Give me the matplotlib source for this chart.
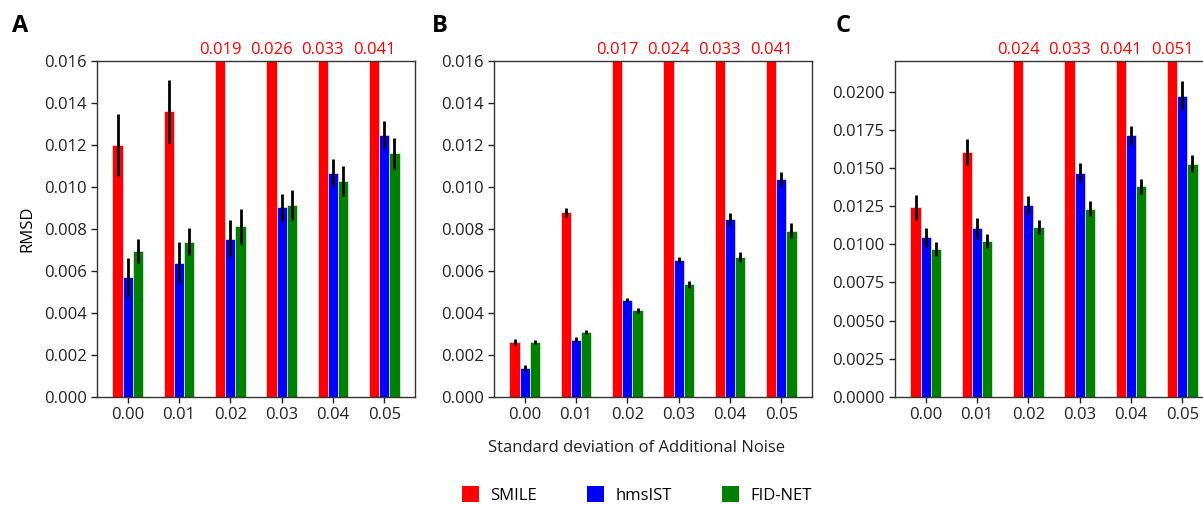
import matplotlib
matplotlib.use("Agg")
import matplotlib.pyplot as plt
from matplotlib.patches import Patch
import numpy as np

plt.rcParams['font.family'] = ['Open Sans', 'DejaVu Sans']

noise_labels = ["0.00", "0.01", "0.02", "0.03", "0.04", "0.05"]
methods = ["SMILE", "hmsIST", "FID-NET"]
colors = ["#ff0000", "#0000ff", "#008000"]

# Panel A
a_smile = [0.0120, 0.0136, 0.019, 0.026, 0.033, 0.041]
a_smile_err = [0.00146, 0.0015, 0, 0, 0, 0]
a_hms = [0.0057, 0.0064, 0.00754, 0.00903, 0.01067, 0.0125]
a_hms_err = [0.00094, 0.00097, 0.00087, 0.00065, 0.00064, 0.00066]
a_fid = [0.00696, 0.00739, 0.00812, 0.00914, 0.01029, 0.0116]
a_fid_err = [0.00057, 0.00065, 0.00085, 0.00072, 0.00072, 0.00075]

# Panel B
b_smile = [0.00262, 0.00879, 0.017, 0.024, 0.033, 0.041]
b_smile_err = [0.00016, 0.00022, 0, 0, 0, 0]
b_hms = [0.00138, 0.00273, 0.00463, 0.00652, 0.00847, 0.01037]
b_hms_err = [0.00016, 0.00011, 0.0001, 0.00014, 0.00027, 0.00033]
b_fid = [0.00261, 0.0031, 0.00413, 0.00536, 0.00665, 0.00792]
b_fid_err = [0.0001, 0.0001, 0.00013, 0.00016, 0.00024, 0.00035]

# Panel C
c_smile = [0.01242, 0.01602, 0.024, 0.033, 0.041, 0.051]
c_smile_err = [0.00083, 0.00085, 0, 0, 0, 0]
c_hms = [0.01045, 0.01104, 0.01257, 0.01469, 0.01714, 0.01974]
c_hms_err = [0.0006, 0.00068, 0.0006, 0.0006, 0.00063, 0.00094]
c_fid = [0.0097, 0.01021, 0.01113, 0.01233, 0.01379, 0.01528]
c_fid_err = [0.00048, 0.00046, 0.00046, 0.0005, 0.00048, 0.00057]

# Annotations of clipped SMILE values
a_notes = ["", "", "0.019", "0.026", "0.033", "0.041"]
b_notes = ["", "", "0.017", "0.024", "0.033", "0.041"]
c_notes = ["", "", "0.024", "0.033", "0.041", "0.051"]

panels = [
    ("A", [a_smile, a_hms, a_fid], [a_smile_err, a_hms_err, a_fid_err], a_notes,
     0.016, np.arange(0, 0.0161, 0.002), "{:.3f}"),
    ("B", [b_smile, b_hms, b_fid], [b_smile_err, b_hms_err, b_fid_err], b_notes,
     0.016, np.arange(0, 0.0161, 0.002), "{:.3f}"),
    ("C", [c_smile, c_hms, c_fid], [c_smile_err, c_hms_err, c_fid_err], c_notes,
     0.022, np.arange(0, 0.0201, 0.0025), "{:.4f}"),
]

W, H = 1203, 505
fig = plt.figure(figsize=(W / 100, H / 100), dpi=100)

lefts = [97, 494, 895]
letter_x = [12, 432, 836]
ax_w = 318
ax_top = 61
ax_bot = 397

x = np.arange(len(noise_labels))
bw = 0.2
offsets = [-0.2, 0.0, 0.2]
FS = 12

for (letter, vals, errs, notes, ymax, yticks, fmt), L, lx in zip(panels, lefts, letter_x):
    ax = fig.add_axes([L / W, (H - ax_bot) / H, ax_w / W, (ax_bot - ax_top) / H])
    for i in range(3):
        e = np.array(errs[i])
        ax.bar(x + offsets[i], vals[i], width=bw, color=colors[i],
               edgecolor='white', linewidth=0.4, zorder=2)
        mask = e > 0
        ax.errorbar((x + offsets[i])[mask], np.array(vals[i])[mask], yerr=e[mask],
                    fmt='none', ecolor='black', elinewidth=2, capsize=0, zorder=3)
    ax.set_xlim(-0.6, 5.6)
    ax.set_ylim(0, ymax)
    ax.set_xticks(x)
    ax.set_xticklabels(noise_labels)
    ax.set_yticks(yticks)
    ax.set_yticklabels([fmt.format(v) for v in yticks])
    ax.tick_params(labelsize=FS, length=4, width=1, colors='#222222')
    for sp in ax.spines.values():
        sp.set_linewidth(1)
        sp.set_color('#333333')
    for xi, note in zip(x, notes):
        if note:
            ax.annotate(note, xy=(xi - 0.2, ymax), xytext=(0, 2.5),
                        textcoords='offset points', color='#ff0000', fontsize=FS,
                        ha='center', va='bottom', annotation_clip=False)
    fig.text(lx / W, (H - 26) / H, letter, fontsize=17, fontweight='bold',
             ha='left', va='center')
    if letter == "A":
        ax.set_ylabel("RMSD", fontsize=FS, labelpad=6)

fig.text(637 / W, (H - 448) / H, "Standard deviation of Additional Noise",
         fontsize=FS, ha='center', va='center', color='#222222')

handles = [Patch(facecolor=c, edgecolor='none') for c in colors]
fig.legend(handles, methods, loc='center', bbox_to_anchor=(637 / W, (H - 495) / H),
           ncol=3, frameon=False, fontsize=FS, handlelength=1.0, handleheight=1.1,
           columnspacing=3.0, handletextpad=0.7)

fig.savefig("out.png", dpi=100)
